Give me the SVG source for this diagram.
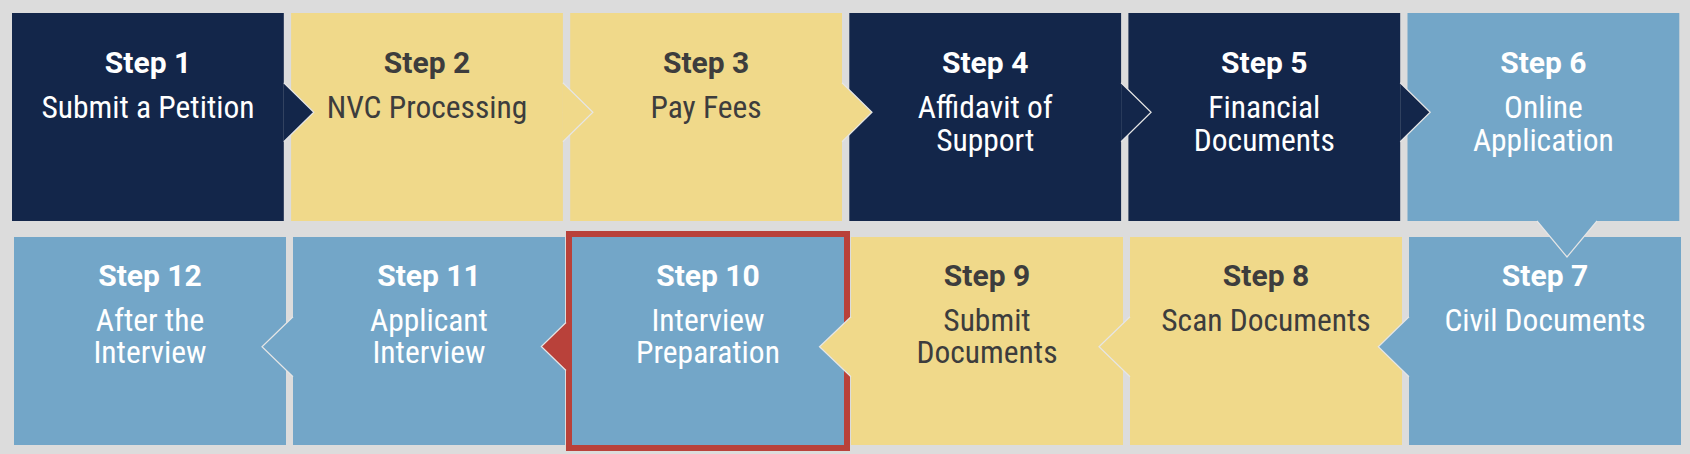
<svg xmlns="http://www.w3.org/2000/svg" width="1690" height="454" viewBox="0 0 1690 454">
<style>
.navy{fill:#13264a}
.yel{fill:#f0d98a}
.blue{fill:#73a6c8}
.red{fill:#b9413a}
.t{text-anchor:middle}
.h{font-family:Roboto,"Roboto Condensed","Liberation Sans",sans-serif;font-size:30px;font-weight:700}
.d{font-family:"Roboto Condensed",Roboto,"Liberation Sans Narrow",sans-serif;font-size:31.5px;font-weight:400}
.w{fill:#ffffff}
.k{fill:#3d3d3d}
.edge{fill:none;stroke:#e6e6e6;stroke-width:1.2}
.border{fill:none;stroke:#b9413a;stroke-width:6}
</style>
<rect x="0" y="0" width="1690" height="454" fill="#dcdcdc"/>

<g id="step1">
<rect class="navy" x="12" y="13" width="271.8" height="208"/>
<text class="t h w" x="148" y="73.3">Step 1</text>
<text class="t d w" x="148" y="118.3">Submit a Petition</text>
</g>
<g id="step2">
<rect class="yel" x="291.1" y="13" width="271.8" height="208"/>
<text class="t h k" x="427" y="73.3">Step 2</text>
<text class="t d k" x="427" y="118.3">NVC Processing</text>
</g>
<g id="step3">
<rect class="yel" x="570.2" y="13" width="271.8" height="208"/>
<text class="t h k" x="706.1" y="73.3">Step 3</text>
<text class="t d k" x="706.1" y="118.3">Pay Fees</text>
</g>
<g id="step4">
<rect class="navy" x="849.3" y="13" width="271.8" height="208"/>
<text class="t h w" x="985.2" y="73.3">Step 4</text>
<text class="t d w" x="985.2" y="118.3">Affidavit of</text>
<text class="t d w" x="985.2" y="150.5">Support</text>
</g>
<g id="step5">
<rect class="navy" x="1128.4" y="13" width="271.8" height="208"/>
<text class="t h w" x="1264.3" y="73.3">Step 5</text>
<text class="t d w" x="1264.3" y="118.3">Financial</text>
<text class="t d w" x="1264.3" y="150.5">Documents</text>
</g>
<g id="step6">
<rect class="blue" x="1407.5" y="13" width="271.8" height="208"/>
<text class="t h w" x="1543.4" y="73.3">Step 6</text>
<text class="t d w" x="1543.4" y="118.3">Online</text>
<text class="t d w" x="1543.4" y="150.5">Application</text>
</g>

<g id="step7">
<rect class="blue" x="1409" y="237" width="272" height="208"/>
<text class="t h w" x="1545" y="286.3">Step 7</text>
<text class="t d w" x="1545" y="331">Civil Documents</text>
</g>
<g id="step8">
<rect class="yel" x="1130" y="237" width="272" height="208"/>
<text class="t h k" x="1266" y="286.3">Step 8</text>
<text class="t d k" x="1266" y="331">Scan Documents</text>
</g>
<g id="step9">
<rect class="yel" x="851" y="237" width="272" height="208"/>
<text class="t h k" x="987" y="286.3">Step 9</text>
<text class="t d k" x="987" y="331">Submit</text>
<text class="t d k" x="987" y="363.3">Documents</text>
</g>
<g id="step10">
<rect class="blue" x="572" y="237" width="272" height="208"/>
<rect class="border" x="569" y="234" width="278" height="214"/>
<text class="t h w" x="708" y="286.3">Step 10</text>
<text class="t d w" x="708" y="331">Interview</text>
<text class="t d w" x="708" y="363.3">Preparation</text>
</g>
<g id="step11">
<rect class="blue" x="293" y="237" width="272" height="208"/>
<text class="t h w" x="429" y="286.3">Step 11</text>
<text class="t d w" x="429" y="331">Applicant</text>
<text class="t d w" x="429" y="363.3">Interview</text>
</g>
<g id="step12">
<rect class="blue" x="14" y="237" width="272" height="208"/>
<text class="t h w" x="150" y="286.3">Step 12</text>
<text class="t d w" x="150" y="331">After the</text>
<text class="t d w" x="150" y="363.3">Interview</text>
</g>

<g id="connectors">
<polygon class="navy" points="283.8,82.7 313.8,112.2 283.8,141.7"/>
<polyline class="edge" points="283.8,82.7 313.8,112.2 283.8,141.7"/>
<polygon class="yel" points="562.9,82.7 592.9,112.2 562.9,141.7"/>
<polyline class="edge" points="562.9,82.7 592.9,112.2 562.9,141.7"/>
<polygon class="yel" points="842,82.7 872,112.2 842,141.7"/>
<polyline class="edge" points="842,82.7 872,112.2 842,141.7"/>
<polygon class="navy" points="1121.1,82.7 1151.1,112.2 1121.1,141.7"/>
<polyline class="edge" points="1121.1,82.7 1151.1,112.2 1121.1,141.7"/>
<polygon class="navy" points="1400.2,82.7 1430.2,112.2 1400.2,141.7"/>
<polyline class="edge" points="1400.2,82.7 1430.2,112.2 1400.2,141.7"/>
<polygon class="blue" points="1537,221 1597,221 1567,257"/>
<polyline class="edge" points="1537,221 1567,257 1597,221"/>
<polygon class="blue" points="1409,316.7 1378.3,346.7 1409,376.7"/>
<polyline class="edge" points="1409,316.7 1378.3,346.7 1409,376.7"/>
<polygon class="yel" points="1130,316.7 1099,346.7 1130,376.7"/>
<polyline class="edge" points="1130,316.7 1099,346.7 1130,376.7"/>
<polygon class="yel" points="851,316.7 819.5,346.7 851,376.7"/>
<polyline class="edge" points="851,316.7 819.5,346.7 851,376.7"/>
<polygon class="red" points="572,316.7 541.3,346.5 572,376.3"/>
<polyline class="edge" points="566,322.5 541.3,346.5 566,370.5"/>
<polygon class="blue" points="293,316.7 262,346.7 293,376.7"/>
<polyline class="edge" points="293,316.7 262,346.7 293,376.7"/>
</g>
</svg>
